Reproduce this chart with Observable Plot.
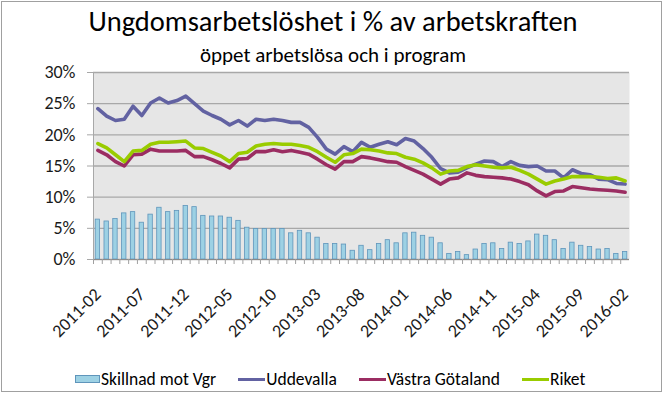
<!DOCTYPE html>
<html><head><meta charset="utf-8">
<script src="https://cdn.jsdelivr.net/npm/d3@7"></script>
<script src="https://cdn.jsdelivr.net/npm/@observablehq/plot@0.6"></script>
<style>
body{margin:0;background:#fff;}
#chart{position:relative;width:666px;height:394px;font-family:Carlito,Calibri,Lato,sans-serif;color:#000;overflow:hidden;background:#fff}
#border{position:absolute;left:1px;top:1px;width:661px;height:391px;border:1.5px solid #a0a0a0;box-sizing:border-box;pointer-events:none}
#head{height:56px;position:relative}
#title{position:absolute;left:0;right:0;top:6px;text-align:center;font-size:28.5px;line-height:32px}
#sub{position:absolute;left:0;right:0;top:43px;text-align:center;font-size:21px;line-height:24px}
#plot{position:relative}
#legend{height:30px;position:relative;font-size:17.5px;display:flex;align-items:center;gap:22px;padding-left:75px}
.item{display:flex;align-items:center}
.sw-bar{width:25px;height:8px;background:#9dd1e4;border:1px solid #5f95bb;box-sizing:border-box}
.sw-line{width:27px;height:3px}
svg{display:block}
</style></head>
<body>
<div id="chart">
  <div id="head"><div id="title">Ungdomsarbetslöshet i % av arbetskraften</div><div id="sub">öppet arbetslösa och i program</div></div>
  <div id="plot"></div>
  <div id="legend"></div>
  <div id="border"></div>
</div>
<script>
// categories: monthly, 2011-02 .. 2016-02
const months = d3.utcMonths(new Date(Date.UTC(2011, 1, 1)), new Date(Date.UTC(2016, 2, 1))).map(d3.utcFormat("%Y-%m"));
const tickLabels = ["2011-02","2011-07","2011-12","2012-05","2012-10","2013-03","2013-08","2014-01","2014-06","2014-11","2015-04","2015-09","2016-02"];
const yTicks = [0, 5, 10, 15, 20, 25, 30];

const uddevalla = [24.2,23.0,22.3,22.5,24.6,23.1,25.1,25.9,25.1,25.5,26.2,25.0,23.8,23.1,22.5,21.6,22.3,21.4,22.5,22.3,22.5,22.3,22.0,22.0,21.2,19.6,17.7,16.9,18.1,17.3,18.8,18.0,18.5,18.9,18.4,19.4,19.0,17.8,16.4,14.6,13.9,14.0,14.7,15.3,15.8,15.7,14.9,15.7,15.1,14.9,15.0,14.2,14.2,13.1,14.4,13.8,13.6,12.9,12.8,12.2,12.1];
const vastraGotaland = [17.5,16.8,15.7,15.0,16.8,16.9,17.7,17.4,17.4,17.4,17.5,16.5,16.5,16.0,15.4,14.7,16.1,16.2,17.3,17.3,17.6,17.3,17.5,17.2,16.9,16.1,15.2,14.5,15.7,15.7,16.5,16.3,16.0,15.7,15.6,14.9,14.3,13.7,12.9,12.1,12.9,13.1,13.9,13.5,13.3,13.2,13.1,12.9,12.5,12.0,11.0,10.2,10.9,11.0,11.7,11.5,11.3,11.2,11.1,11.0,10.8];
const riket = [18.6,17.9,16.8,15.7,17.4,17.5,18.5,18.8,18.8,18.9,19.0,17.9,17.8,17.2,16.6,15.7,17.0,17.2,18.2,18.5,18.6,18.5,18.5,18.3,18.0,17.3,16.4,15.6,16.8,17.0,17.7,17.6,17.4,17.1,17.0,16.4,16.1,15.5,14.7,13.7,14.2,14.3,14.9,15.2,15.0,14.8,14.7,14.8,14.3,13.7,12.9,12.1,12.6,12.9,13.3,13.3,13.3,13.2,13.0,13.1,12.6];
const skillnad = [6.4,6.1,6.5,7.4,7.6,5.9,7.2,8.3,7.6,7.8,8.6,8.4,7.0,6.9,6.9,6.7,6.2,5.1,4.9,4.9,4.9,4.9,4.2,4.6,4.2,3.5,2.5,2.5,2.4,1.4,2.2,1.5,2.5,3.1,2.6,4.2,4.3,3.8,3.5,2.6,0.9,1.2,0.7,1.6,2.5,2.6,1.7,2.7,2.5,2.9,4.0,3.8,3.1,1.7,2.7,2.2,2.0,1.6,1.7,0.9,1.2];

const seriesNames = ["Skillnad mot Vgr", "Uddevalla", "Västra Götaland", "Riket"];
const colors = {"Skillnad mot Vgr": "#9dd1e4", "Uddevalla": "#6262a2", "Västra Götaland": "#9b2d62", "Riket": "#99cc00"};

const bars = months.map((m, i) => ({month: m, value: skillnad[i]}));
const lines = [["Uddevalla", uddevalla], ["Västra Götaland", vastraGotaland], ["Riket", riket]]
  .flatMap(([name, vals]) => months.map((m, i) => ({month: m, value: vals[i], series: name})));

const W = 666, H = 308, ML = 93, MR = 37, MT = 16, MB = 105;
const step = (W - ML - MR) / months.length;
const font = "Carlito, Calibri, Lato, sans-serif";

const chart = Plot.plot({
  width: W, height: H,
  marginLeft: ML, marginRight: MR, marginTop: MT, marginBottom: MB,
  style: {fontFamily: font, color: "#1a1a1a", background: "transparent", overflow: "visible"},
  x: {type: "band", domain: months, paddingInner: 0.5, paddingOuter: 0.25, label: null},
  y: {domain: [0, 30], label: null},
  marks: [
    Plot.frame({fill: "#e6e6e6", stroke: "none"}),
    Plot.gridY(yTicks, {stroke: "#a8a8a8", strokeOpacity: 1, strokeWidth: 1.4}),
    Plot.axisY({ticks: yTicks, tickFormat: d => d + "%", tickSize: 6, tickPadding: 12, fontSize: 18, stroke: "#a8a8a8", label: null}),
    Plot.ruleX([months[0]], {dx: -step / 2, stroke: "#a8a8a8"}),
    Plot.barY(bars, {x: "month", y: "value", fill: colors["Skillnad mot Vgr"], stroke: "#5f95bb", strokeWidth: 0.8}),
    Plot.ruleY([0], {stroke: "#8a8a8a", strokeWidth: 1.2}),
    Plot.axisX({ticks: months, tickSize: 5, tickFormat: () => "", dx: -step / 2, stroke: "#a0a0a0", label: null}),
    Plot.axisX({ticks: tickLabels, tickSize: 0, tickRotate: -45, tickPadding: 32, fontSize: 18, label: null}),
    Plot.lineY(lines, {x: "month", y: "value", z: "series", stroke: d => colors[d.series], strokeWidth: 3.6, strokeLinejoin: "round", curve: "linear"})
  ]
});
document.getElementById("plot").appendChild(chart);

const legend = document.getElementById("legend");
seriesNames.forEach((name, k) => {
  const it = document.createElement("div");
  it.className = "item";
  const sw = document.createElement("div");
  if (k === 0) { sw.className = "sw-bar"; }
  else { sw.className = "sw-line"; sw.style.background = colors[name]; }
  const tx = document.createElement("span");
  tx.textContent = name;
  tx.style.marginLeft = "1px";
  it.appendChild(sw); it.appendChild(tx);
  legend.appendChild(it);
});
</script>
</body></html>
